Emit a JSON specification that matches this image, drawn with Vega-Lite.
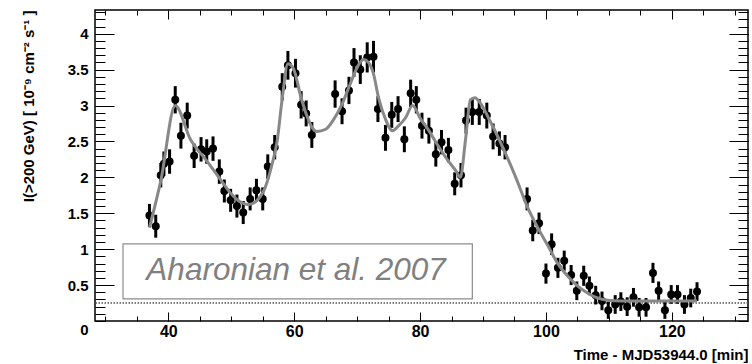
{
  "$schema": "https://vega.github.io/schema/vega-lite/v6.json",
  "width": 653,
  "height": 311,
  "autosize": {"type": "none"},
  "padding": {"left": 95, "top": 10, "right": 4, "bottom": 43},
  "background": "white",
  "config": {
    "view": {"stroke": "black", "strokeWidth": 1.5},
    "axis": {
      "domain": false,
      "grid": false,
      "tickColor": "black",
      "tickWidth": 1,
      "labelFont": "Liberation Sans",
      "labelFontWeight": "bold",
      "labelFontSize": 15,
      "labelColor": "black",
      "titleFont": "Liberation Sans",
      "titleFontWeight": "bold",
      "titleFontSize": 15,
      "titleColor": "black"
    }
  },
  "datasets": {
    "flux": [
      {"t": 37.0, "flux": 1.47, "err": 0.16},
      {"t": 38.0, "flux": 1.32, "err": 0.16},
      {"t": 38.8, "flux": 2.03, "err": 0.17},
      {"t": 39.3, "flux": 2.19, "err": 0.17},
      {"t": 40.2, "flux": 2.22, "err": 0.17},
      {"t": 41.1, "flux": 3.08, "err": 0.19},
      {"t": 42.0, "flux": 2.58, "err": 0.18},
      {"t": 43.0, "flux": 2.86, "err": 0.18},
      {"t": 44.1, "flux": 2.30, "err": 0.17},
      {"t": 45.2, "flux": 2.39, "err": 0.17},
      {"t": 46.1, "flux": 2.36, "err": 0.17},
      {"t": 47.1, "flux": 2.40, "err": 0.17},
      {"t": 48.1, "flux": 2.08, "err": 0.17},
      {"t": 48.9, "flux": 1.81, "err": 0.16},
      {"t": 49.9, "flux": 1.68, "err": 0.16},
      {"t": 50.9, "flux": 1.60, "err": 0.16},
      {"t": 51.9, "flux": 1.51, "err": 0.16},
      {"t": 53.0, "flux": 1.70, "err": 0.16},
      {"t": 54.0, "flux": 1.82, "err": 0.16},
      {"t": 55.0, "flux": 1.70, "err": 0.16},
      {"t": 55.8, "flux": 2.15, "err": 0.17},
      {"t": 56.9, "flux": 2.42, "err": 0.17},
      {"t": 58.1, "flux": 3.26, "err": 0.19},
      {"t": 59.0, "flux": 3.56, "err": 0.2},
      {"t": 60.2, "flux": 3.45, "err": 0.2},
      {"t": 61.1, "flux": 3.01, "err": 0.19},
      {"t": 61.9, "flux": 2.89, "err": 0.18},
      {"t": 62.8, "flux": 2.59, "err": 0.18},
      {"t": 66.5, "flux": 3.16, "err": 0.19},
      {"t": 67.6, "flux": 2.92, "err": 0.18},
      {"t": 68.7, "flux": 3.21, "err": 0.19},
      {"t": 69.5, "flux": 3.60, "err": 0.2},
      {"t": 70.5, "flux": 3.50, "err": 0.2},
      {"t": 71.6, "flux": 3.67, "err": 0.21},
      {"t": 72.6, "flux": 3.68, "err": 0.22},
      {"t": 73.3, "flux": 2.95, "err": 0.18},
      {"t": 74.5, "flux": 2.55, "err": 0.18},
      {"t": 75.5, "flux": 2.87, "err": 0.18},
      {"t": 76.5, "flux": 2.95, "err": 0.18},
      {"t": 77.5, "flux": 2.53, "err": 0.18},
      {"t": 78.5, "flux": 3.17, "err": 0.19},
      {"t": 79.4, "flux": 3.08, "err": 0.19},
      {"t": 80.3, "flux": 2.72, "err": 0.18},
      {"t": 81.4, "flux": 2.65, "err": 0.18},
      {"t": 82.5, "flux": 2.32, "err": 0.17},
      {"t": 83.4, "flux": 2.49, "err": 0.17},
      {"t": 84.5, "flux": 2.38, "err": 0.17},
      {"t": 85.5, "flux": 1.91, "err": 0.16},
      {"t": 86.5, "flux": 2.03, "err": 0.17},
      {"t": 87.3, "flux": 2.79, "err": 0.18},
      {"t": 88.3, "flux": 2.91, "err": 0.18},
      {"t": 89.4, "flux": 2.91, "err": 0.18},
      {"t": 90.6, "flux": 2.86, "err": 0.18},
      {"t": 91.6, "flux": 2.57, "err": 0.18},
      {"t": 92.6, "flux": 2.47, "err": 0.17},
      {"t": 93.5, "flux": 2.42, "err": 0.17},
      {"t": 97.0, "flux": 1.70, "err": 0.16},
      {"t": 97.9, "flux": 1.26, "err": 0.15},
      {"t": 98.9, "flux": 1.36, "err": 0.15},
      {"t": 100.0, "flux": 0.66, "err": 0.14},
      {"t": 100.9, "flux": 1.07, "err": 0.15},
      {"t": 101.9, "flux": 0.74, "err": 0.14},
      {"t": 102.9, "flux": 0.84, "err": 0.14},
      {"t": 104.0, "flux": 0.64, "err": 0.14},
      {"t": 104.9, "flux": 0.42, "err": 0.13},
      {"t": 106.0, "flux": 0.63, "err": 0.14},
      {"t": 106.9, "flux": 0.49, "err": 0.13},
      {"t": 107.9, "flux": 0.36, "err": 0.13},
      {"t": 108.9, "flux": 0.28, "err": 0.13},
      {"t": 109.9, "flux": 0.15, "err": 0.12},
      {"t": 111.0, "flux": 0.23, "err": 0.13},
      {"t": 111.9, "flux": 0.27, "err": 0.13},
      {"t": 112.9, "flux": 0.20, "err": 0.13},
      {"t": 113.9, "flux": 0.33, "err": 0.13},
      {"t": 114.8, "flux": 0.19, "err": 0.13},
      {"t": 115.9, "flux": 0.19, "err": 0.13},
      {"t": 117.0, "flux": 0.67, "err": 0.14},
      {"t": 117.9, "flux": 0.42, "err": 0.13},
      {"t": 118.9, "flux": 0.15, "err": 0.12},
      {"t": 119.9, "flux": 0.37, "err": 0.13},
      {"t": 120.9, "flux": 0.37, "err": 0.13},
      {"t": 122.0, "flux": 0.23, "err": 0.13},
      {"t": 123.0, "flux": 0.32, "err": 0.13},
      {"t": 124.0, "flux": 0.41, "err": 0.13}
    ],
    "fit": [
      {"t": 37.0, "flux": 1.30},
      {"t": 38.8, "flux": 1.95},
      {"t": 41.1, "flux": 3.00},
      {"t": 43.5, "flux": 2.53},
      {"t": 46.1, "flux": 2.23},
      {"t": 48.2, "flux": 1.98},
      {"t": 49.8, "flux": 1.79},
      {"t": 51.4, "flux": 1.66},
      {"t": 52.7, "flux": 1.62},
      {"t": 54.1, "flux": 1.68},
      {"t": 55.4, "flux": 1.86},
      {"t": 56.5, "flux": 2.19},
      {"t": 57.3, "flux": 2.51},
      {"t": 58.1, "flux": 3.10},
      {"t": 59.0, "flux": 3.58},
      {"t": 59.9, "flux": 3.51},
      {"t": 61.0, "flux": 3.14},
      {"t": 62.0, "flux": 2.86},
      {"t": 62.8, "flux": 2.70},
      {"t": 63.6, "flux": 2.64},
      {"t": 65.0, "flux": 2.67},
      {"t": 66.3, "flux": 2.81},
      {"t": 67.6, "flux": 3.02},
      {"t": 68.9, "flux": 3.30},
      {"t": 70.0, "flux": 3.53},
      {"t": 71.0, "flux": 3.64},
      {"t": 71.8, "flux": 3.60},
      {"t": 72.6, "flux": 3.44},
      {"t": 73.4, "flux": 3.11},
      {"t": 74.5, "flux": 2.81},
      {"t": 75.6, "flux": 2.65},
      {"t": 76.6, "flux": 2.72},
      {"t": 77.7, "flux": 2.83},
      {"t": 78.8, "flux": 3.00},
      {"t": 80.1, "flux": 2.81},
      {"t": 81.4, "flux": 2.65},
      {"t": 82.7, "flux": 2.46},
      {"t": 84.3, "flux": 2.25},
      {"t": 85.7, "flux": 2.09},
      {"t": 86.4, "flux": 2.00},
      {"t": 87.2, "flux": 2.51},
      {"t": 88.0, "flux": 3.08},
      {"t": 88.7, "flux": 3.11},
      {"t": 89.6, "flux": 3.03},
      {"t": 91.2, "flux": 2.77},
      {"t": 92.6, "flux": 2.52},
      {"t": 95.2, "flux": 2.00},
      {"t": 97.1, "flux": 1.58},
      {"t": 98.7, "flux": 1.30},
      {"t": 100.3, "flux": 1.05},
      {"t": 101.8, "flux": 0.81},
      {"t": 103.4, "flux": 0.63},
      {"t": 105.0, "flux": 0.49},
      {"t": 106.6, "flux": 0.39},
      {"t": 108.2, "flux": 0.32},
      {"t": 109.8, "flux": 0.29},
      {"t": 111.9, "flux": 0.28},
      {"t": 124.0, "flux": 0.28}
    ],
    "baseline": [{"level": 0.25}],
    "note": [{"t0": 32.8, "t1": 88.3, "lo": 0.307, "hi": 1.074, "tc": 60.3, "fc": 0.70, "label": "Aharonian et al. 2007"}]
  },
  "resolve": {
    "scale": {"x": "independent", "y": "independent"},
    "axis": {"x": "independent", "y": "independent"}
  },
  "layer": [
    {
      "data": {"name": "note"},
      "mark": {"type": "rect", "fill": "white", "stroke": "#8c8c8c", "strokeWidth": 1.2},
      "encoding": {
        "x": {"field": "t0", "type": "quantitative", "scale": {"domain": [28.35, 132.1], "nice": false, "zero": false},
              "axis": {"orient": "top", "values": [40, 60, 80, 100, 120], "labels": false, "tickSize": -9, "title": null}},
        "x2": {"field": "t1"},
        "y": {"field": "lo", "type": "quantitative", "scale": {"domain": [0, 4.33], "nice": false, "zero": false},
              "axis": {"orient": "right", "values": [0.5, 1, 1.5, 2, 2.5, 3, 3.5, 4], "labels": false, "tickSize": -19, "title": null}},
        "y2": {"field": "hi"}
      }
    },
    {
      "data": {"name": "note"},
      "mark": {"type": "text", "font": "Liberation Sans", "fontStyle": "italic", "fontSize": 31.5, "color": "#808080", "align": "center", "baseline": "middle"},
      "encoding": {
        "x": {"field": "tc", "type": "quantitative", "scale": {"domain": [28.35, 132.1], "nice": false, "zero": false}, "axis": null},
        "y": {"field": "fc", "type": "quantitative", "scale": {"domain": [0, 4.33], "nice": false, "zero": false}, "axis": null},
        "text": {"field": "label"}
      }
    },
    {
      "data": {"name": "baseline"},
      "mark": {"type": "rule", "color": "#555555", "strokeWidth": 1.5, "strokeDash": [1.5, 1.5]},
      "encoding": {
        "y": {"field": "level", "type": "quantitative", "scale": {"domain": [0, 4.33], "nice": false, "zero": false}, "axis": null}
      }
    },
    {
      "data": {"name": "flux"},
      "mark": {"type": "errorbar", "color": "black", "thickness": 3},
      "encoding": {
        "x": {"field": "t", "type": "quantitative", "scale": {"domain": [28.35, 132.1], "nice": false, "zero": false},
              "axis": {"orient": "top", "values": [30, 35, 40, 45, 50, 55, 60, 65, 70, 75, 80, 85, 90, 95, 100, 105, 110, 115, 120, 125, 130], "labels": false, "tickSize": -5, "title": null}},
        "y": {"field": "flux", "type": "quantitative", "scale": {"domain": [0, 4.33], "nice": false, "zero": false},
              "axis": {"orient": "right", "values": [0, 0.1, 0.2, 0.3, 0.4, 0.5, 0.6, 0.7, 0.8, 0.9, 1, 1.1, 1.2, 1.3, 1.4, 1.5, 1.6, 1.7, 1.8, 1.9, 2, 2.1, 2.2, 2.3, 2.4, 2.5, 2.6, 2.7, 2.8, 2.9, 3, 3.1, 3.2, 3.3, 3.4, 3.5, 3.6, 3.7, 3.8, 3.9, 4, 4.1, 4.2, 4.3], "labels": false, "tickSize": -10, "title": null}},
        "yError": {"field": "err"}
      }
    },
    {
      "data": {"name": "flux"},
      "mark": {"type": "point", "shape": "circle", "filled": true, "color": "black", "opacity": 1, "size": 64},
      "encoding": {
        "x": {"field": "t", "type": "quantitative", "scale": {"domain": [28.35, 132.1], "nice": false, "zero": false},
              "axis": {"orient": "bottom", "values": [40, 60, 80, 100, 120], "format": "d", "tickSize": -9, "labelPadding": 11, "labelFontSize": 16,
                       "title": "Time - MJD53944.0 [min]", "titleAnchor": "end", "titleBaseline": "alphabetic", "titleY": 38}},
        "y": {"field": "flux", "type": "quantitative", "scale": {"domain": [0, 4.33], "nice": false, "zero": false},
              "axis": {"orient": "left", "values": [0.5, 1, 1.5, 2, 2.5, 3, 3.5, 4], "format": "~g", "tickSize": -19, "labelPadding": 26,
                       "title": "I(>200 GeV) [ 10⁻⁹ cm⁻² s⁻¹ ]", "titleAnchor": "end", "titleBaseline": "alphabetic", "titleX": -62}}
      }
    },
    {
      "data": {"name": "fit"},
      "mark": {"type": "line", "color": "#888888", "strokeWidth": 3, "interpolate": "monotone"},
      "encoding": {
        "x": {"field": "t", "type": "quantitative", "scale": {"domain": [28.35, 132.1], "nice": false, "zero": false},
              "axis": {"orient": "bottom", "values": [30, 35, 40, 45, 50, 55, 60, 65, 70, 75, 80, 85, 90, 95, 100, 105, 110, 115, 120, 125, 130], "labels": false, "tickSize": -5, "title": null}},
        "y": {"field": "flux", "type": "quantitative", "scale": {"domain": [0, 4.33], "nice": false, "zero": false},
              "axis": {"orient": "left", "values": [0, 0.1, 0.2, 0.3, 0.4, 0.5, 0.6, 0.7, 0.8, 0.9, 1, 1.1, 1.2, 1.3, 1.4, 1.5, 1.6, 1.7, 1.8, 1.9, 2, 2.1, 2.2, 2.3, 2.4, 2.5, 2.6, 2.7, 2.8, 2.9, 3, 3.1, 3.2, 3.3, 3.4, 3.5, 3.6, 3.7, 3.8, 3.9, 4, 4.1, 4.2, 4.3],
                       "tickSize": -10, "labelPadding": 17, "labelOffset": 8, "labelOverlap": false, "labelBound": false,
                       "labelExpr": "datum.value == 0 ? '0' : ''", "title": null}}
      }
    }
  ]
}
